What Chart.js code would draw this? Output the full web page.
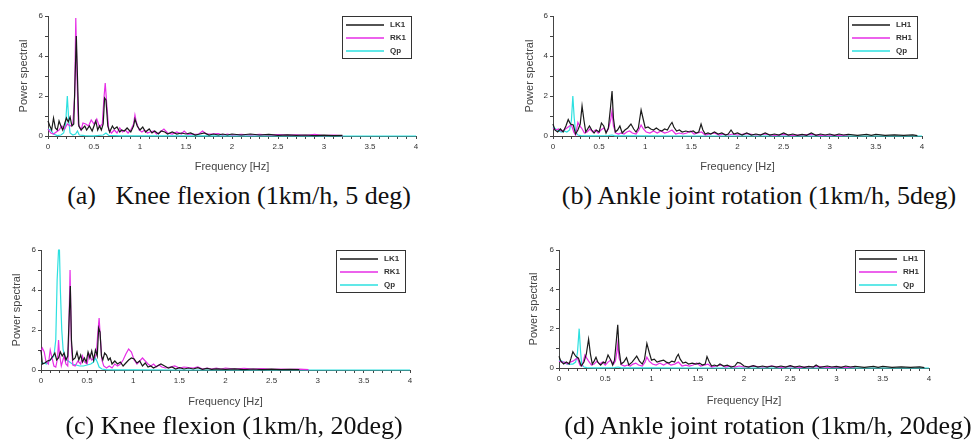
<!DOCTYPE html>
<html>
<head>
<meta charset="utf-8">
<script src="https://cdn.jsdelivr.net/npm/chart.js@4"></script>
<style>
  html, body { margin:0; padding:0; background:#fff; }
  #wrap { position:relative; width:976px; height:443px; overflow:hidden; background:#fff; }
  canvas { position:absolute; }
  .cap { position:absolute; transform:translateX(-50%); font-family:"Liberation Serif","Times New Roman",serif; font-size:26px; line-height:30px; color:#111; white-space:pre; }
</style>
</head>
<body>
<div id="wrap">
  <canvas id="ca" width="470" height="180" style="left:0px;top:0px"></canvas>
  <canvas id="cb" width="481" height="180" style="left:495px;top:0px"></canvas>
  <canvas id="cc" width="470" height="180" style="left:0px;top:235px"></canvas>
  <canvas id="cd" width="481" height="180" style="left:495px;top:235px"></canvas>
  <div class="cap" style="left:239px;top:181px">(a)   Knee flexion (1km/h, 5 deg)</div>
  <div class="cap" style="left:759px;top:181px">(b) Ankle joint rotation (1km/h, 5deg)</div>
  <div class="cap" style="left:234px;top:411px">(c) Knee flexion (1km/h, 20deg)</div>
  <div class="cap" style="left:768px;top:411px">(d) Ankle joint rotation (1km/h, 20deg)</div>
</div>
<script>
// ---- Data: [frequency Hz, power] pairs ----
const xTickMajor = [0, 0.5, 1, 1.5, 2, 2.5, 3, 3.5, 4];
const yTickMajor = [0, 2, 4, 6];

const labelsKnee = ['LK1', 'RK1', 'Qp'];
const labelsAnkle = ['LH1', 'RH1', 'Qp'];

// (a) Knee flexion 5 deg
const aLK1 = [[0,0.75],[0.02,0.5],[0.04,0.3],[0.06,0.9],[0.08,0.4],[0.1,0.3],[0.12,0.75],[0.14,0.5],[0.16,0.3],[0.18,0.6],[0.2,0.9],[0.22,0.7],[0.24,0.95],[0.26,0.5],[0.28,0.6],[0.295,3.0],[0.308,5.0],[0.32,3.0],[0.335,0.5],[0.36,0.3],[0.38,0.4],[0.4,0.5],[0.42,0.3],[0.45,0.5],[0.48,0.25],[0.5,0.5],[0.52,0.75],[0.54,0.3],[0.56,0.5],[0.58,0.3],[0.6,0.6],[0.615,1.9],[0.63,1.8],[0.65,0.5],[0.67,0.2],[0.7,0.5],[0.72,0.35],[0.75,0.45],[0.78,0.2],[0.8,0.3],[0.83,0.25],[0.86,0.4],[0.9,0.2],[0.93,0.5],[0.945,0.85],[0.97,0.5],[1.0,0.3],[1.03,0.45],[1.06,0.2],[1.1,0.35],[1.13,0.15],[1.16,0.25],[1.2,0.1],[1.23,0.25],[1.27,0.2],[1.3,0.1],[1.35,0.2],[1.4,0.1],[1.45,0.15],[1.5,0.1],[1.55,0.15],[1.6,0.05],[1.65,0.1],[1.7,0.15],[1.75,0.05],[1.8,0.1],[1.85,0.05],[1.9,0.1],[1.95,0.05],[2.0,0.1],[2.1,0.05],[2.2,0.1],[2.3,0.05],[2.4,0.08],[2.5,0.03],[2.6,0.06],[2.7,0.03],[2.8,0.05],[2.9,0.02],[3.0,0.04],[3.1,0.02],[3.2,0.03]];
const aRK1 = [[0,0.35],[0.03,0.15],[0.06,0.1],[0.09,0.2],[0.12,0.3],[0.15,0.5],[0.18,0.35],[0.21,0.6],[0.24,0.5],[0.27,0.6],[0.29,2.0],[0.302,5.9],[0.315,3.0],[0.33,0.6],[0.36,0.3],[0.38,0.65],[0.41,0.6],[0.44,0.5],[0.47,0.8],[0.5,0.6],[0.53,0.85],[0.56,0.45],[0.59,0.6],[0.61,2.0],[0.622,2.65],[0.64,1.5],[0.66,0.3],[0.69,0.15],[0.72,0.3],[0.75,0.15],[0.78,0.4],[0.81,0.2],[0.84,0.3],[0.87,0.15],[0.9,0.3],[0.93,0.6],[0.945,1.05],[0.96,0.7],[0.99,0.3],[1.02,0.2],[1.05,0.3],[1.08,0.15],[1.11,0.2],[1.15,0.25],[1.18,0.1],[1.22,0.2],[1.26,0.35],[1.3,0.15],[1.35,0.1],[1.4,0.2],[1.45,0.1],[1.48,0.25],[1.52,0.08],[1.56,0.1],[1.6,0.08],[1.64,0.1],[1.68,0.25],[1.72,0.1],[1.78,0.1],[1.85,0.12],[1.9,0.05],[1.95,0.1],[2.0,0.05],[2.1,0.08],[2.2,0.05],[2.3,0.08],[2.4,0.05],[2.5,0.07],[2.6,0.04],[2.7,0.06],[2.8,0.03],[2.9,0.08],[3.0,0.02],[3.1,0.05],[3.2,0.02]];
const aQp = [[0,0.35],[0.03,0.3],[0.06,0.1],[0.1,0.02],[0.14,0.05],[0.17,0.15],[0.19,0.5],[0.21,2.0],[0.225,0.8],[0.24,0.15],[0.27,0.05],[0.3,0.1],[0.32,0.25],[0.34,0.05],[0.4,0.02],[0.5,0.01],[0.6,0.05],[0.63,0.15],[0.66,0.03],[0.8,0.01],[1.0,0.01],[1.5,0.01],[2.0,0.01],[2.5,0],[3.0,0],[3.5,0],[4.0,0]];

// (b) Ankle joint rotation 5 deg
const bLH1 = [[0,0.6],[0.02,0.3],[0.05,0.2],[0.08,0.35],[0.11,0.2],[0.14,0.5],[0.165,0.82],[0.19,0.6],[0.22,0.55],[0.245,0.1],[0.27,0.3],[0.295,0.6],[0.315,1.5],[0.335,0.8],[0.355,0.2],[0.375,0.35],[0.395,0.5],[0.42,0.3],[0.445,0.15],[0.47,0.3],[0.5,0.2],[0.525,0.65],[0.55,0.5],[0.575,0.15],[0.6,0.4],[0.625,1.5],[0.64,2.25],[0.655,0.9],[0.675,0.2],[0.7,0.3],[0.725,0.5],[0.75,0.15],[0.78,0.3],[0.81,0.4],[0.845,0.6],[0.875,0.35],[0.9,0.2],[0.925,0.4],[0.955,1.3],[0.98,0.8],[1.0,0.4],[1.03,0.45],[1.06,0.35],[1.09,0.3],[1.12,0.4],[1.15,0.3],[1.18,0.25],[1.21,0.35],[1.24,0.3],[1.27,0.55],[1.29,0.68],[1.31,0.45],[1.34,0.25],[1.37,0.3],[1.4,0.2],[1.44,0.25],[1.48,0.2],[1.52,0.25],[1.55,0.15],[1.58,0.2],[1.605,0.6],[1.625,0.3],[1.65,0.1],[1.68,0.15],[1.71,0.1],[1.75,0.2],[1.79,0.1],[1.83,0.15],[1.87,0.05],[1.9,0.1],[1.93,0.3],[1.96,0.1],[2.0,0.15],[2.05,0.05],[2.1,0.15],[2.15,0.05],[2.2,0.1],[2.25,0.05],[2.3,0.15],[2.35,0.05],[2.4,0.1],[2.45,0.05],[2.5,0.15],[2.55,0.05],[2.6,0.1],[2.65,0.03],[2.7,0.08],[2.75,0.03],[2.8,0.15],[2.85,0.03],[2.9,0.1],[2.95,0.05],[3.0,0.1],[3.05,0.03],[3.1,0.1],[3.15,0.05],[3.2,0.08],[3.3,0.03],[3.4,0.08],[3.45,0.03],[3.5,0.08],[3.6,0.03],[3.7,0.06],[3.8,0.03],[3.9,0.06],[3.95,0.02]];
const bRH1 = [[0,0.4],[0.03,0.3],[0.06,0.35],[0.09,0.25],[0.12,0.3],[0.15,0.4],[0.18,0.5],[0.2,0.55],[0.225,0.2],[0.245,0.05],[0.27,0.68],[0.29,0.5],[0.31,0.4],[0.34,0.15],[0.37,0.2],[0.4,0.35],[0.43,0.2],[0.46,0.3],[0.49,0.15],[0.52,0.3],[0.55,0.4],[0.58,0.2],[0.6,0.35],[0.625,0.8],[0.64,1.25],[0.655,0.5],[0.68,0.15],[0.71,0.1],[0.74,0.15],[0.77,0.1],[0.8,0.2],[0.83,0.25],[0.86,0.15],[0.9,0.1],[0.93,0.3],[0.955,0.55],[0.98,0.35],[1.01,0.2],[1.05,0.15],[1.09,0.25],[1.13,0.15],[1.17,0.25],[1.21,0.15],[1.25,0.2],[1.29,0.3],[1.33,0.1],[1.37,0.15],[1.41,0.1],[1.45,0.15],[1.49,0.25],[1.53,0.1],[1.57,0.15],[1.61,0.2],[1.65,0.05],[1.7,0.1],[1.75,0.15],[1.8,0.05],[1.85,0.1],[1.9,0.05],[1.95,0.1],[2.0,0.05],[2.1,0.12],[2.2,0.05],[2.3,0.1],[2.4,0.03],[2.5,0.08],[2.6,0.03],[2.7,0.06],[2.8,0.08],[2.9,0.03],[3.0,0.05],[3.1,0.03],[3.2,0.05]];
const bQp = [[0,0.45],[0.03,0.35],[0.06,0.25],[0.09,0.2],[0.12,0.25],[0.15,0.2],[0.18,0.3],[0.2,0.8],[0.215,2.0],[0.23,0.9],[0.245,0.2],[0.27,0.05],[0.3,0.02],[0.4,0.01],[0.6,0.02],[0.64,0.05],[0.67,0.01],[1.0,0.01],[1.5,0],[2.0,0],[2.5,0],[3.0,0],[3.5,0],[4.0,0]];

// (c) Knee flexion 20 deg
const cLK1 = [[0,1.0],[0.015,0.3],[0.04,0.35],[0.07,0.45],[0.1,0.5],[0.13,0.7],[0.15,0.85],[0.17,0.5],[0.19,0.6],[0.21,0.9],[0.23,0.7],[0.25,0.85],[0.27,0.5],[0.29,0.7],[0.305,2.6],[0.318,4.2],[0.33,1.5],[0.345,0.5],[0.37,0.6],[0.39,0.9],[0.41,0.5],[0.43,0.75],[0.45,0.4],[0.47,0.6],[0.49,0.4],[0.51,0.9],[0.53,0.6],[0.55,0.95],[0.57,0.5],[0.59,1.0],[0.61,0.7],[0.625,2.1],[0.64,1.9],[0.655,0.7],[0.67,0.5],[0.69,0.85],[0.71,0.75],[0.73,0.5],[0.75,0.6],[0.77,0.3],[0.8,0.45],[0.83,0.3],[0.86,0.4],[0.89,0.2],[0.92,0.35],[0.95,0.5],[0.98,0.6],[1.01,0.55],[1.04,0.35],[1.07,0.45],[1.1,0.2],[1.13,0.35],[1.16,0.15],[1.19,0.2],[1.22,0.1],[1.26,0.2],[1.3,0.3],[1.34,0.2],[1.38,0.1],[1.42,0.15],[1.46,0.05],[1.5,0.12],[1.55,0.05],[1.6,0.1],[1.65,0.05],[1.7,0.12],[1.75,0.03],[1.8,0.08],[1.85,0.03],[1.9,0.06],[2.0,0.03],[2.1,0.06],[2.2,0.02],[2.3,0.05],[2.4,0.02],[2.5,0.04],[2.6,0.02],[2.7,0.03],[2.8,0.02]];
const cRK1 = [[0,0.9],[0.015,1.1],[0.035,0.9],[0.055,0.4],[0.08,0.3],[0.1,1.0],[0.12,0.6],[0.14,0.2],[0.16,0.15],[0.18,0.6],[0.19,1.5],[0.2,0.8],[0.22,0.2],[0.25,0.7],[0.27,0.3],[0.29,0.2],[0.3,1.5],[0.315,5.0],[0.33,1.2],[0.345,0.25],[0.37,0.2],[0.4,0.45],[0.43,0.3],[0.45,0.7],[0.47,0.4],[0.5,0.3],[0.52,0.8],[0.55,0.5],[0.58,0.6],[0.6,0.8],[0.615,1.8],[0.63,2.6],[0.645,1.5],[0.66,0.5],[0.68,0.2],[0.71,0.1],[0.74,0.2],[0.77,0.1],[0.8,0.3],[0.83,0.2],[0.86,0.3],[0.89,0.5],[0.92,0.8],[0.95,1.05],[0.98,0.9],[1.01,0.5],[1.04,0.3],[1.07,0.45],[1.1,0.6],[1.13,0.45],[1.16,0.3],[1.19,0.2],[1.22,0.3],[1.25,0.15],[1.28,0.25],[1.31,0.15],[1.35,0.1],[1.4,0.15],[1.45,0.2],[1.5,0.1],[1.55,0.15],[1.6,0.12],[1.65,0.1],[1.7,0.15],[1.75,0.05],[1.8,0.1],[1.85,0.05],[1.9,0.1],[1.95,0.05],[2.0,0.1],[2.1,0.05],[2.2,0.08],[2.3,0.04],[2.4,0.07],[2.5,0.03],[2.6,0.05],[2.7,0.03],[2.8,0.04],[2.9,0.02]];
const cQp = [[0,0.35],[0.03,0.35],[0.06,0.3],[0.09,0.45],[0.12,0.6],[0.14,0.7],[0.16,1.5],[0.175,4.5],[0.19,6.0],[0.2,6.0],[0.21,4.0],[0.225,2.0],[0.24,1.0],[0.26,0.7],[0.28,0.5],[0.31,0.4],[0.34,0.3],[0.38,0.25],[0.42,0.2],[0.46,0.2],[0.5,0.25],[0.54,0.3],[0.57,0.4],[0.59,0.6],[0.61,0.4],[0.63,0.15],[0.66,0.05],[0.7,0.02],[0.8,0.01],[1.0,0.01],[1.5,0],[2.0,0],[2.5,0],[3.0,0],[3.5,0],[4.0,0]];

// (d) Ankle joint rotation 20 deg
const dLH1 = [[0,0.6],[0.02,0.35],[0.05,0.2],[0.08,0.3],[0.11,0.2],[0.13,0.5],[0.15,0.83],[0.18,0.6],[0.21,0.5],[0.24,0.1],[0.27,0.3],[0.295,0.7],[0.32,1.47],[0.34,0.7],[0.36,0.2],[0.38,0.35],[0.4,0.55],[0.42,0.3],[0.45,0.15],[0.48,0.3],[0.5,0.25],[0.53,0.66],[0.555,0.45],[0.58,0.15],[0.6,0.4],[0.62,1.4],[0.635,2.2],[0.65,0.9],[0.67,0.2],[0.7,0.3],[0.73,0.52],[0.755,0.15],[0.79,0.3],[0.815,0.45],[0.84,0.6],[0.87,0.35],[0.9,0.2],[0.925,0.45],[0.95,1.25],[0.975,0.8],[1.0,0.4],[1.03,0.45],[1.06,0.3],[1.09,0.35],[1.13,0.4],[1.16,0.3],[1.19,0.25],[1.22,0.35],[1.25,0.3],[1.27,0.55],[1.29,0.7],[1.31,0.45],[1.34,0.25],[1.37,0.3],[1.4,0.2],[1.44,0.25],[1.48,0.2],[1.52,0.25],[1.55,0.15],[1.58,0.2],[1.6,0.58],[1.625,0.3],[1.65,0.1],[1.68,0.15],[1.71,0.1],[1.74,0.2],[1.78,0.1],[1.82,0.15],[1.86,0.05],[1.9,0.1],[1.93,0.28],[1.96,0.25],[2.0,0.1],[2.05,0.05],[2.1,0.12],[2.15,0.05],[2.2,0.1],[2.25,0.05],[2.3,0.1],[2.35,0.05],[2.4,0.1],[2.45,0.05],[2.5,0.12],[2.55,0.05],[2.6,0.1],[2.65,0.03],[2.7,0.08],[2.75,0.05],[2.78,0.15],[2.82,0.03],[2.9,0.1],[2.95,0.05],[3.0,0.08],[3.05,0.03],[3.1,0.1],[3.15,0.05],[3.2,0.08],[3.3,0.03],[3.4,0.08],[3.45,0.03],[3.5,0.08],[3.6,0.03],[3.7,0.06],[3.8,0.03],[3.9,0.06],[3.95,0.02]];
const dRH1 = [[0,0.35],[0.03,0.3],[0.06,0.3],[0.09,0.2],[0.12,0.3],[0.15,0.35],[0.18,0.45],[0.2,0.5],[0.225,0.15],[0.25,0.1],[0.28,0.66],[0.3,0.5],[0.32,0.35],[0.35,0.15],[0.38,0.2],[0.41,0.35],[0.44,0.2],[0.47,0.3],[0.5,0.15],[0.53,0.3],[0.56,0.4],[0.59,0.2],[0.61,0.35],[0.625,0.8],[0.635,1.22],[0.65,0.5],[0.68,0.15],[0.71,0.1],[0.74,0.15],[0.77,0.1],[0.8,0.2],[0.83,0.25],[0.86,0.15],[0.9,0.1],[0.93,0.3],[0.95,0.55],[0.975,0.35],[1.01,0.2],[1.05,0.15],[1.09,0.25],[1.13,0.15],[1.17,0.25],[1.21,0.15],[1.25,0.2],[1.29,0.3],[1.33,0.1],[1.37,0.15],[1.41,0.1],[1.45,0.15],[1.49,0.25],[1.53,0.1],[1.57,0.15],[1.61,0.2],[1.65,0.05],[1.7,0.1],[1.75,0.15],[1.8,0.05],[1.85,0.1],[1.9,0.05],[1.95,0.1],[2.0,0.05],[2.1,0.1],[2.2,0.05],[2.3,0.1],[2.4,0.03],[2.5,0.08],[2.6,0.03],[2.7,0.06],[2.8,0.08],[2.9,0.03],[3.0,0.05],[3.1,0.03],[3.2,0.05]];
const dQp = [[0,0.4],[0.03,0.35],[0.06,0.25],[0.09,0.2],[0.12,0.2],[0.15,0.2],[0.18,0.3],[0.2,0.8],[0.218,2.0],[0.232,0.9],[0.245,0.2],[0.27,0.05],[0.3,0.02],[0.4,0.01],[0.6,0.02],[0.64,0.05],[0.67,0.01],[1.0,0.01],[1.5,0],[2.0,0],[2.5,0],[3.0,0],[3.5,0],[4.0,0]];

// ---- styles ----
const colBlack = '#1a1a1a';
const colMagenta = '#e62ee6';
const colCyan = '#2de0e0';
Chart.defaults.font.family = '"Liberation Sans", Arial, sans-serif';
Chart.defaults.color = '#333';

const boxLegend = {
  id: 'boxLegend',
  afterDraw(chart) {
    const ctx = chart.ctx, ca = chart.chartArea;
    const w = 70, h = 43;
    const x = Math.round(ca.right - 4 - w), y = Math.round(ca.top);
    ctx.save();
    ctx.fillStyle = '#fff';
    ctx.fillRect(x, y, w, h);
    ctx.strokeStyle = '#333';
    ctx.lineWidth = 1;
    ctx.strokeRect(x + 0.5, y + 0.5, w - 1, h - 1);
    ctx.font = 'bold 8px "Liberation Sans", Arial';
    ctx.textBaseline = 'middle';
    chart.data.datasets.forEach((ds, i) => {
      const yy = y + 9 + i * 13;
      ctx.strokeStyle = ds.borderColor;
      ctx.lineWidth = 1.5;
      ctx.beginPath();
      ctx.moveTo(x + 4, yy);
      ctx.lineTo(x + 42, yy);
      ctx.stroke();
      ctx.fillStyle = '#333';
      ctx.fillText(ds.label, x + 48, yy);
    });
    ctx.restore();
  }
};

function makePanel(id, g, labels, series) {
  const cols = [colBlack, colMagenta, colCyan];
  const datasets = series.map((s, i) => ({
    label: labels[i], data: s, borderColor: cols[i], borderWidth: 1.2,
    pointRadius: 0, tension: 0, fill: false, clip: 2
  }));
  return new Chart(document.getElementById(id), {
    type: 'line',
    data: { datasets },
    plugins: [boxLegend],
    options: {
      responsive: false, animation: false, devicePixelRatio: 1,
      layout: { padding: { left: 0, top: g.padTop, right: g.padRight, bottom: 0 } },
      plugins: { legend: { display: false }, tooltip: { enabled: false } },
      scales: {
        x: {
          type: 'linear', min: 0, max: 4,
          ticks: {
            stepSize: 0.1, autoSkip: false, maxRotation: 0, padding: 3,
            font: { size: 8 }, color: '#333',
            callback: (v) => {
              const r = Math.round(v * 10) / 10;
              return xTickMajor.some(m => Math.abs(m - r) < 1e-6) ? String(r) : '';
            }
          },
          grid: { drawOnChartArea: false, drawTicks: true, tickLength: 3, color: '#444' },
          border: { color: '#444', width: 1 },
          title: { display: true, text: 'Frequency [Hz]', color: '#444', font: { size: 11 }, padding: { top: 0, bottom: g.xTitlePad } },
          afterFit: (s) => { s.height = g.xAxisH; }
        },
        y: {
          type: 'linear', min: 0, max: 6,
          ticks: {
            stepSize: 1, padding: 2, font: { size: 8 }, color: '#333',
            callback: (v) => yTickMajor.includes(v) ? String(v) : ''
          },
          grid: { drawOnChartArea: false, drawTicks: true, tickLength: 3, color: '#444' },
          border: { color: '#444', width: 1 },
          title: { display: true, text: 'Power spectral', color: '#444', font: { size: 11 }, padding: { top: g.yTitlePad, bottom: 0 } },
          afterFit: (s) => { s.width = g.yAxisW; }
        }
      }
    }
  });
}

makePanel('ca', { padTop: 16, padRight: 54, xAxisH: 44, yAxisW: 48, xTitlePad: 6.4, yTitlePad: 17 }, labelsKnee, [aLK1, aRK1, aQp]);
makePanel('cb', { padTop: 16, padRight: 54, xAxisH: 44, yAxisW: 58, xTitlePad: 6.4, yTitlePad: 28 }, labelsAnkle, [bLH1, bRH1, bQp]);
makePanel('cc', { padTop: 15, padRight: 60, xAxisH: 45, yAxisW: 41, xTitlePad: 6, yTitlePad: 10.4 }, labelsKnee, [cLK1, cRK1, cQp]);
makePanel('cd', { padTop: 15, padRight: 47, xAxisH: 47, yAxisW: 64, xTitlePad: 7.4, yTitlePad: 32.4 }, labelsAnkle, [dLH1, dRH1, dQp]);
</script>
</body>
</html>
